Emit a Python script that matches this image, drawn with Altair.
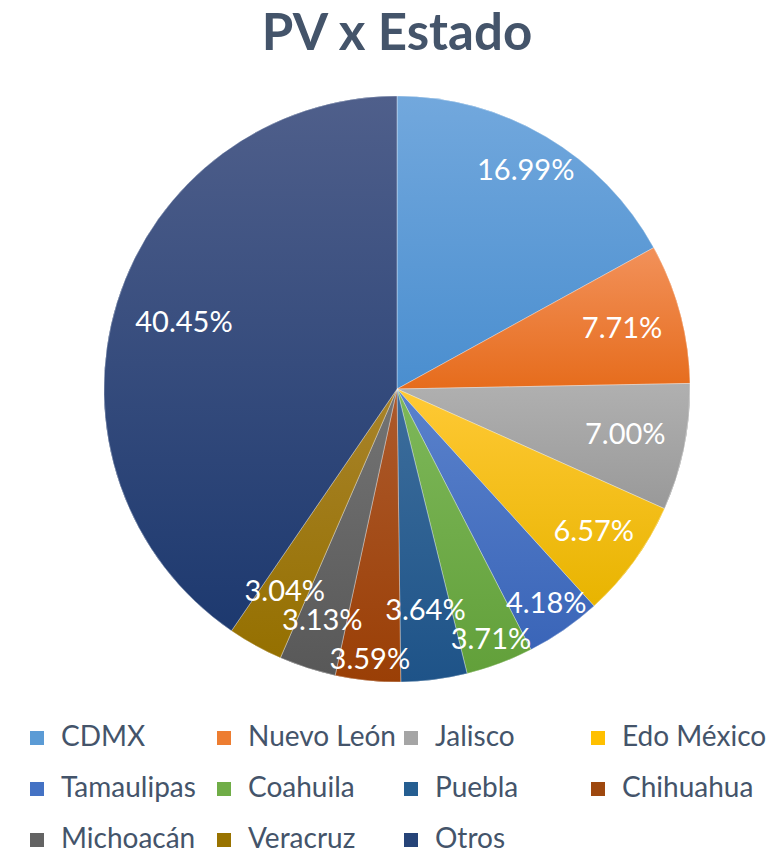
import altair as alt
import pandas as pd
import math

estados = ["CDMX", "Nuevo León", "Jalisco", "Edo México", "Tamaulipas", "Coahuila",
           "Puebla", "Chihuahua", "Michoacán", "Veracruz", "Otros"]
porcentajes = [16.99, 7.71, 7.00, 6.57, 4.18, 3.71, 3.64, 3.59, 3.13, 3.04, 40.45]

base_colors = ["#5B9BD5", "#ED7D31", "#A5A5A5", "#FFC000", "#4472C4", "#70AD47",
               "#255E91", "#9E480E", "#636363", "#997300", "#264478"]
top_colors = ["#72A8DD", "#F2915A", "#B0B0B0", "#FFC935", "#5A82CC", "#7EB85A",
              "#3D6E9C", "#AD5A2C", "#747474", "#A8832A", "#4F5F8B"]
bottom_colors = ["#4A8ECF", "#E66C1C", "#999999", "#E8B400", "#3A65B8", "#62A03A",
                 "#1E5388", "#9A3F06", "#585858", "#957000", "#1D396F"]

df = pd.DataFrame({"estado": estados, "pct": porcentajes, "idx": list(range(len(estados)))})

FONT = "Lato"
CX, CY, R = 389, 311, 293
# "best fit" label distances from the centre (layout, like Excel's placement)
LABEL_R = "[253, 233, 233, 243, 262, 268, 224, 272, 244, 232, 223]"

base = alt.Chart(df).encode(
    theta=alt.Theta("pct:Q", stack=True),
    order=alt.Order("idx:Q"),
)

legend_layer = base.mark_arc(radius=R, x=CX, y=CY).encode(
    color=alt.Color(
        "estado:N",
        scale=alt.Scale(domain=estados, range=base_colors),
        sort=estados,
        legend=alt.Legend(
            title=None, orient="none", legendX=15, legendY=646, columns=4,
            direction="horizontal", padding=0,
            symbolType="square", symbolSize=196, symbolStrokeWidth=0,
            labelFont=FONT, labelFontSize=28, labelColor="#44546A",
            labelOffset=10, columnPadding=1, rowPadding=23, gridAlign="all",
            labelLimit=300,
        ),
    )
)

def grad(i):
    return {
        "gradient": "linear", "x1": 0, "y1": 0, "x2": 0, "y2": 1,
        "stops": [
            {"offset": 0, "color": top_colors[i]},
            {"offset": 1, "color": bottom_colors[i]},
        ],
    }

fill_def = {
    "condition": [
        {"test": f"datum.idx === {i}", "value": grad(i)} for i in range(len(estados) - 1)
    ],
    "value": grad(len(estados) - 1),
}

grad_layer = base.mark_arc(radius=R, x=CX, y=CY, stroke="#FFFFFF", strokeWidth=0.6,
                           strokeOpacity=0.6).encode(fill=fill_def)

pie = alt.layer(legend_layer, grad_layer)

text_layer = alt.Chart(df).transform_window(
    cum="sum(pct)", sort=[alt.SortField("idx")], frame=[None, 0]
).transform_joinaggregate(
    total="sum(pct)"
).transform_calculate(
    label="format(datum.pct, '.2f') + '%'",
    mid="(datum.cum - datum.pct / 2) / datum.total",
    lr=f"{LABEL_R}[datum.idx]",
).mark_text(x=CX, y=CY, font=FONT, fontSize=29, color="white").encode(
    theta=alt.Theta("mid:Q", stack=None, scale=alt.Scale(domain=[0, 1], range=[0, 2 * math.pi])),
    radius=alt.Radius("lr:Q", scale=None, stack=None),
    text="label:N",
)

chart = alt.layer(pie, text_layer).resolve_scale(
    theta="independent", radius="independent"
).properties(
    width=768, height=775,
    padding={"left": 0, "right": 0, "top": 70, "bottom": 0},
    autosize=alt.AutoSizeParams(type="none"),
    title=alt.TitleParams(
        "PV x Estado", font=FONT, fontSize=51, fontWeight="bold", color="#44546A",
        anchor="middle", dx=5, offset=17,
    ),
).configure_view(stroke=None)

chart.save("out.html", embed_options={"renderer": "svg", "actions": False})
